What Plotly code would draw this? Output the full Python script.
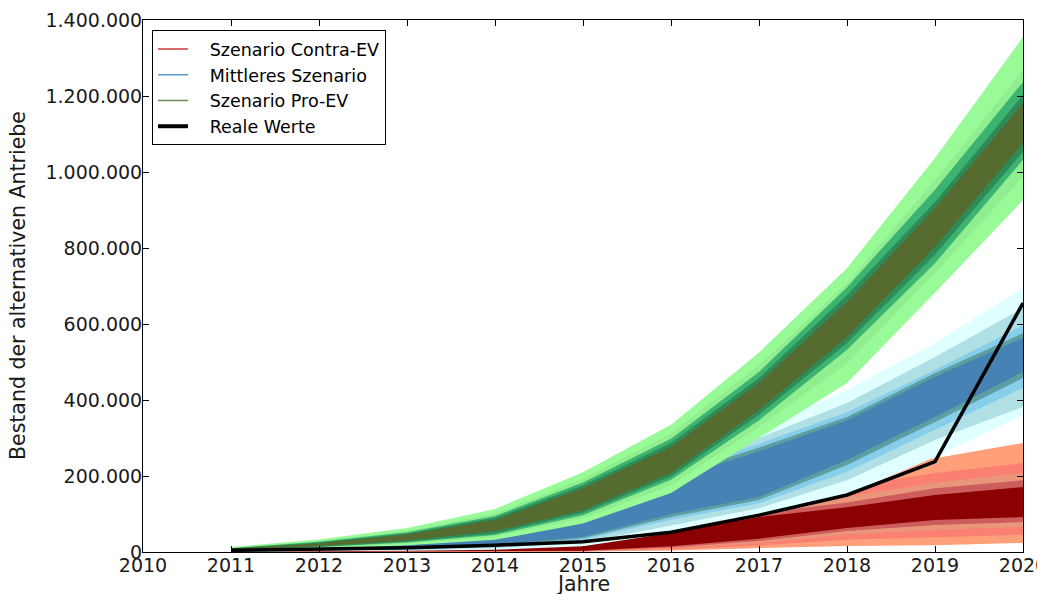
import plotly.graph_objects as go

years = [2011, 2012, 2013, 2014, 2015, 2016, 2017, 2018, 2019, 2020]

# values in thousands
real_values = [4.5, 7, 11, 18, 27, 52, 97, 150, 238, 655]

# Szenario Contra-EV (red fan), outer -> inner
red_ls_hi = [5, 12, 25, 50, 85, 125, 165, 205, 247, 287]
red_ls_lo = [0.1, 0.2, 0.4, 0.6, 1, 4, 10, 16, 18, 24]
red_sal_hi = [3.5, 8, 15, 30, 52, 88, 138, 172, 208, 234]
red_sal_lo = [0.2, 0.4, 0.7, 1, 1.5, 7, 17, 32, 39, 45]
red_dsal_hi = [3, 6, 11, 21, 36, 70, 115, 145, 182, 208]
red_dsal_lo = [0.3, 0.6, 1, 1.3, 2, 10, 24, 46, 58, 66]
red_ired_hi = [2.5, 5, 9, 16, 28, 58, 102, 130, 168, 189]
red_ired_lo = [0.4, 0.8, 1.2, 1.6, 2.5, 12, 29, 55, 71, 79]
red_dred_hi = [2, 4, 7, 12, 22, 50, 92, 118, 150, 171]
red_dred_lo = [0.5, 1, 1.5, 2, 3, 15, 35, 63, 84, 92]

# Mittleres Szenario (blue fan)
blue_lc_hi = [8, 15, 30, 60, 130, 260, 325, 426, 550, 695]
blue_lc_lo = [1, 2, 3, 6, 15, 50, 100, 150, 250, 360]
blue_pb_hi = [7, 13, 26, 54, 112, 230, 300, 392, 513, 642]
blue_pb_lo = [1.2, 2.5, 4.5, 10, 25, 70, 115, 189, 295, 382]
blue_sky_hi = [6, 11, 22, 48, 100, 212, 285, 368, 479, 597]
blue_sky_lo = [1.5, 3, 6, 14, 32, 85, 128, 211, 321, 432]
blue_cad_hi = [5.5, 10, 20, 44, 92, 200, 275, 355, 471, 576]
blue_cad_lo = [1.8, 3.5, 7, 16, 36, 92, 137, 229, 342, 458]
blue_st_hi = [5, 9, 18, 40, 85, 190, 265, 347, 461, 563]
blue_st_lo = [2, 4, 8, 18, 40, 100, 145, 242, 355, 474]

# Szenario Pro-EV (green fan)
green_pg_hi = [13, 33, 63, 113, 210, 335, 525, 747, 1037, 1355]
green_pg_lo = [3, 9, 18, 32, 75, 155, 300, 445, 682, 926]
green_lg_hi = [11, 29, 56, 102, 193, 312, 492, 708, 979, 1268]
green_lg_lo = [4, 11, 22, 40, 88, 175, 329, 497, 734, 987]
green_msg_hi = [10, 27, 52, 95, 183, 298, 474, 697, 953, 1237]
green_msg_lo = [5, 13, 25, 45, 97, 190, 347, 532, 760, 1032]
green_sg_hi = [9.5, 25, 49, 90, 175, 287, 458, 676, 921, 1203]
green_sg_lo = [5.5, 14, 27, 49, 103, 199, 361, 550, 782, 1053]
green_dog_hi = [9, 23, 46, 84, 168, 276, 445, 658, 905, 1181]
green_dog_lo = [6, 16, 30, 55, 110, 208, 374, 566, 803, 1076]

x_ticks = [2010, 2011, 2012, 2013, 2014, 2015, 2016, 2017, 2018, 2019, 2020]
y_ticks = [0, 200000, 400000, 600000, 800000, 1000000, 1200000, 1400000]
y_tick_labels = ["0", "200.000", "400.000", "600.000", "800.000",
                 "1.000.000", "1.200.000", "1.400.000"]
legend_names = ["Szenario Contra-EV", "Mittleres Szenario", "Szenario Pro-EV", "Reale Werte"]

bands = [
    (red_ls_hi, red_ls_lo, "#FFA07A"),
    (red_sal_hi, red_sal_lo, "#FA8072"),
    (red_dsal_hi, red_dsal_lo, "#E9967A"),
    (red_ired_hi, red_ired_lo, "#CD5C5C"),
    (red_dred_hi, red_dred_lo, "#8B0000"),
    (blue_lc_hi, blue_lc_lo, "#E0FFFF"),
    (blue_pb_hi, blue_pb_lo, "#B0E0E6"),
    (blue_sky_hi, blue_sky_lo, "#87CEEB"),
    (blue_cad_hi, blue_cad_lo, "#5F9EA0"),
    (blue_st_hi, blue_st_lo, "#4682B4"),
    (green_pg_hi, green_pg_lo, "#98FB98"),
    (green_lg_hi, green_lg_lo, "#90EE90"),
    (green_msg_hi, green_msg_lo, "#3CB371"),
    (green_sg_hi, green_sg_lo, "#2E8B57"),
    (green_dog_hi, green_dog_lo, "#556B2F"),
]

fig = go.Figure()
for hi, lo, col in bands:
    xs = years + years[::-1]
    ys = [v * 1000 for v in hi] + [v * 1000 for v in lo[::-1]]
    fig.add_trace(go.Scatter(x=xs, y=ys, mode="lines", fill="toself",
                             fillcolor=col, line=dict(width=0, color=col),
                             showlegend=False, hoverinfo="skip"))

fig.add_trace(go.Scatter(x=years, y=[v * 1000 for v in real_values], mode="lines",
                         line=dict(color="black", width=3.5), showlegend=False))

# legend proxies
legend_styles = [("#cd3b3b", 1.5), ("#5b9bd5", 1.5), ("#6b8a55", 1.5), ("black", 4)]
for name, (col, w) in zip(legend_names, legend_styles):
    fig.add_trace(go.Scatter(x=[None], y=[None], mode="lines",
                             name="\u00a0\u00a0\u00a0" + name,
                             line=dict(color=col, width=w)))

tick_font = dict(family="DejaVu Sans", size=19, color="#1a1a1a")
title_font = dict(family="DejaVu Sans", size=20.5, color="#1a1a1a")
fig.update_layout(
    width=1037, height=586,
    margin=dict(l=135, r=22, t=12, b=42, autoexpand=False),
    paper_bgcolor="white", plot_bgcolor="white",
    font=tick_font,
    legend=dict(x=0.0102, y=0.981, xanchor="left", yanchor="top",
                bgcolor="white", bordercolor="black", borderwidth=1,
                font=dict(family="DejaVu Sans", size=17.5, color="black"),
                itemwidth=30, tracegroupgap=0),
    xaxis=dict(range=[2010, 2020], tickvals=x_ticks, ticktext=[str(t) for t in x_ticks],
               ticks="inside", ticklen=6, tickcolor="black", mirror="allticks",
               showline=True, linecolor="black", linewidth=1, showgrid=False,
               zeroline=False, automargin=False, tickfont=tick_font,
               ticklabeloverflow="allow", ticklabelstandoff=-4),
    yaxis=dict(range=[0, 1400000], tickvals=y_ticks, ticktext=y_tick_labels,
               ticks="inside", ticklen=6, tickcolor="black", mirror="allticks",
               showline=True, linecolor="black", linewidth=1, showgrid=False,
               zeroline=False, automargin=False, tickfont=tick_font,
               ticklabeloverflow="allow", ticklabelstandoff=-4),
    annotations=[
        dict(text="Jahre", xref="paper", yref="paper", x=0.5, y=-0.060,
             xanchor="center", yanchor="middle", showarrow=False, font=title_font),
        dict(text="Bestand der alternativen Antriebe", xref="paper", yref="paper",
             x=-0.142, y=0.50, xanchor="center", yanchor="middle", textangle=-90,
             showarrow=False, font=title_font),
    ],
)

fig.write_html("out.html")
